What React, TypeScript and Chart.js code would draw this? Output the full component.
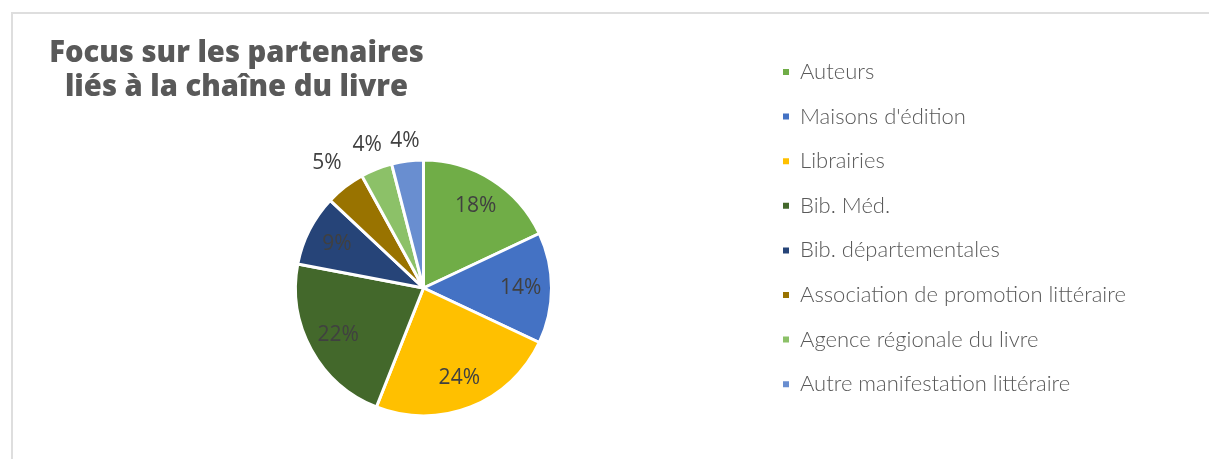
import React, { useEffect, useRef } from "react";
import { Chart, registerables } from "chart.js";

Chart.register(...registerables);

// ---- data ----
const categories = [
  "Auteurs",
  "Maisons d'édition",
  "Librairies",
  "Bib. Méd.",
  "Bib. départementales",
  "Association de promotion littéraire",
  "Agence régionale du livre",
  "Autre manifestation littéraire",
];
const shares = [18, 14, 24, 22, 9, 5, 4, 4];
const sliceColors = [
  "#70AD47",
  "#4472C4",
  "#FFC000",
  "#43682B",
  "#264478",
  "#997300",
  "#8CC168",
  "#698ED0",
];
const titleLines = ["Focus sur les partenaires", "liés à la chaîne du livre"];

// ---- layout ----
const W = 1209;
const H = 600; // canvas is taller than the viewport; wrapper clips it
const CX = 423.5;
const CY = 288;
const R = 128;
const LEG_FONT = 22;
const LEG_PAD = 22.6;
const LEG_BOX = 6;
const LEG_BOX_LEFT = 783;
const LEG_FIRST_Y = 72;
const LEG_FAMILY = "Lato";
const LEG_WEIGHT = 300;
const LABEL_FONT = "21px 'Open Sans'";

const sliceLabels = {
  id: "sliceLabels",
  afterDatasetsDraw(chart: any) {
    const ctx: CanvasRenderingContext2D = chart.ctx;
    const meta = chart.getDatasetMeta(0);
    const data = chart.data.datasets[0].data as number[];
    const total = data.reduce((a, b) => a + b, 0);
    ctx.save();
    ctx.font = LABEL_FONT;
    ctx.fillStyle = "#404040";
    ctx.textAlign = "center";
    ctx.textBaseline = "middle";
    meta.data.forEach((el: any, i: number) => {
      const { x, y, startAngle, endAngle, outerRadius } = el.getProps(
        ["x", "y", "startAngle", "endAngle", "outerRadius"],
        true
      );
      const mid = (startAngle + endAngle) / 2;
      const pct = (data[i] / total) * 100;
      const text = Math.round(pct) + "%";
      const c = Math.cos(mid);
      const s = Math.sin(mid);
      let r: number;
      if (pct < 7) {
        const w = ctx.measureText(text).width;
        r = outerRadius + 13 + Math.abs(c) * (w / 2 + 6) + Math.abs(s) * 5;
      } else {
        r = outerRadius * 0.76;
      }
      ctx.fillText(text, x + c * r, y + s * r);
    });
    ctx.restore();
  },
};

export default function App() {
  const canvasRef = useRef<HTMLCanvasElement | null>(null);

  useEffect(() => {
    const canvas = canvasRef.current;
    if (!canvas) return;

    // measure widest legend label to place the legend box precisely
    const mctx = document.createElement("canvas").getContext("2d")!;
    mctx.font = `normal ${LEG_WEIGHT} ${LEG_FONT}px ${LEG_FAMILY}`;
    const maxTextW = Math.max(...categories.map((t) => mctx.measureText(t).width));
    const maxItemW = LEG_BOX + LEG_FONT / 2 + maxTextW;
    // vertical legends add 10px to their fitted width
    const padRight = W - LEG_BOX_LEFT - maxItemW - 10;
    const padTop = LEG_FIRST_Y - LEG_PAD - LEG_FONT / 2;
    const areaBottom = 2 * CY - padTop;
    const padBottom = H - areaBottom;
    const areaRight = LEG_BOX_LEFT - LEG_PAD;
    const padLeft = 2 * CX - areaRight;

    const chart = new Chart(canvas, {
      type: "pie",
      data: {
        labels: categories,
        datasets: [
          {
            data: shares,
            backgroundColor: sliceColors,
            borderColor: "#ffffff",
            borderWidth: 3,
            radius: R,
          } as any,
        ],
      },
      options: {
        animation: false,
        responsive: false,
        events: [],
        layout: {
          padding: { left: padLeft, right: padRight, top: padTop, bottom: padBottom },
        },
        plugins: {
          tooltip: { enabled: false },
          title: { display: false },
          legend: {
            display: true,
            position: "right",
            align: "start",
            labels: {
              boxWidth: LEG_BOX,
              boxHeight: LEG_BOX,
              padding: LEG_PAD,
              color: "#595959",
              font: { family: LEG_FAMILY, size: LEG_FONT, weight: LEG_WEIGHT as any },
              generateLabels: () =>
                categories.map((text, i) => ({
                  text,
                  fillStyle: sliceColors[i],
                  strokeStyle: sliceColors[i],
                  lineWidth: 0,
                  hidden: false,
                  index: i,
                  fontColor: "#595959",
                })),
            },
          },
        },
      },
      plugins: [sliceLabels],
    });

    return () => chart.destroy();
  }, []);

  return (
    <div
      style={{
        position: "fixed",
        left: 0,
        top: 0,
        width: W,
        height: 459,
        overflow: "hidden",
        background: "#ffffff",
      }}
    >
      <div
        style={{
          position: "absolute",
          left: 11,
          top: 12,
          width: 1400,
          height: 700,
          border: "2px solid #dedede",
          boxSizing: "border-box",
        }}
      />
      <canvas
        ref={canvasRef}
        width={W}
        height={H}
        style={{ position: "absolute", left: 0, top: 0, width: W, height: H }}
      />
      <div
        style={{
          position: "absolute",
          left: 0,
          top: 35,
          width: 473,
          textAlign: "center",
          fontFamily: "'Open Sans', sans-serif",
          fontWeight: 800,
          fontSize: 29.2,
          lineHeight: "33.5px",
          color: "#595959",
          whiteSpace: "nowrap",
        }}
      >
        {titleLines.map((l, i) => (
          <div key={i}>{l}</div>
        ))}
      </div>
    </div>
  );
}
